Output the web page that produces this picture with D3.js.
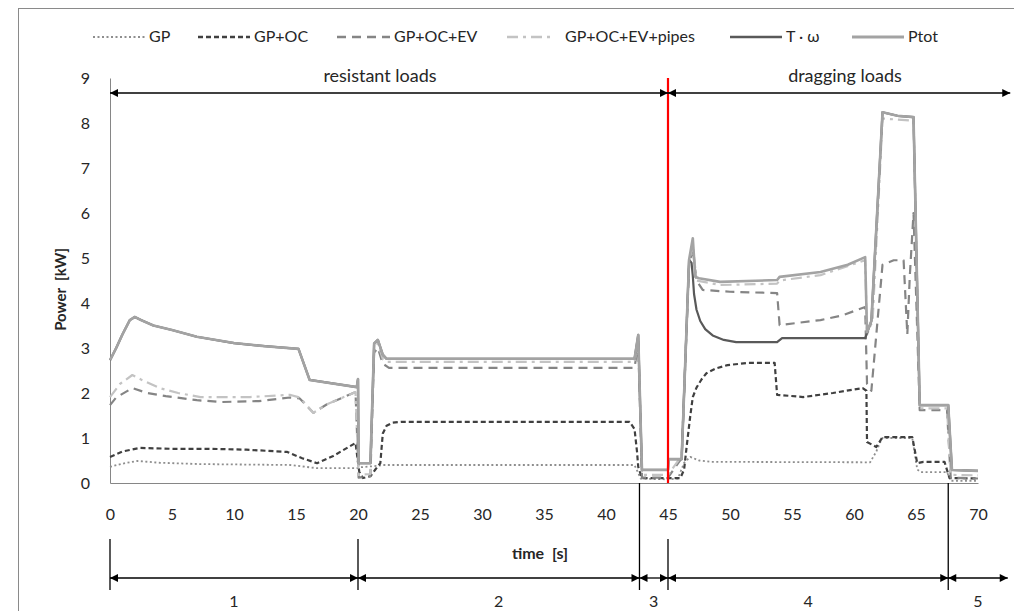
<!DOCTYPE html>
<html lang="en">
<head>
  <meta charset="UTF-8">
  <title>Power vs time</title>
  <style>
    body { margin: 0; background: #fff; }
    svg text { font-family: Lato, "Open Sans", sans-serif; fill: #262626; white-space: pre; }
  </style>
</head>
<body>
  <svg id="chart" width="1014" height="611"></svg>

  <script src="https://d3js.org/d3.v7.min.js"></script>
  <script>
    // series: [time s, power kW]
    const gp = [[0,0.36],[1,0.43],[2.2,0.49],[4,0.45],[7.3,0.42],[14.5,0.4],[16.7,0.33],[19.9,0.33],[20.2,0.35],[21.5,0.38],[22,0.4],
      [42.3,0.4],[42.8,0.1],[45,0.08],[45.8,0.1],[46.3,0.45],[46.8,0.58],[47.5,0.5],[48.5,0.47],[61.3,0.46],[61.8,0.7],[62.1,0.9],
      [62.3,1.0],[64.7,1.0],[65.1,0.3],[65.4,0.24],[67.5,0.24],[67.8,0.05],[70,0.05]];

    const gpOc = [[0,0.58],[1,0.7],[2.4,0.78],[5,0.76],[8,0.76],[11,0.74],[14.3,0.69],[15.5,0.55],[16.7,0.44],[18,0.6],[19.8,0.89],
      [20.1,0.25],[20.4,0.11],[21,0.15],[21.4,0.3],[21.8,0.44],[22,1.1],[22.3,1.27],[22.8,1.34],[23.5,1.36],[41.9,1.36],[42.3,1.2],
      [42.5,0.7],[42.6,0.36],[42.9,0.11],[46,0.11],[46.3,0.3],[46.5,0.8],[46.8,1.5],[47,1.91],[47.3,2.12],[47.7,2.3],[48.1,2.44],
      [48.9,2.55],[49.8,2.62],[51.5,2.67],[53.6,2.67],[53.8,1.96],[55.9,1.91],[58.3,2.0],[60.7,2.11],[61,2.05],[61.05,0.91],
      [61.8,0.8],[62.3,1.02],[64.7,1.02],[65.1,0.44],[65.6,0.47],[67.3,0.47],[67.7,0.11],[70,0.1]];

    const gpOcEv = [[0,1.73],[0.5,1.9],[1.8,2.11],[3,2.0],[4.5,1.93],[7,1.84],[9,1.8],[12,1.82],[14.5,1.9],[15.3,1.88],[16.4,1.56],
      [17.5,1.75],[19.8,2.02],[20.05,0.12],[21,0.15],[21.3,2.9],[21.6,3.0],[22,2.65],[22.5,2.56],[42.3,2.56],[42.6,3.1],[42.9,0.12],
      [45,0.12],[46.1,0.55],[46.7,4.85],[47,5.2],[47.3,4.5],[47.8,4.29],[50,4.25],[53.8,4.22],[54,3.51],[57.3,3.62],[59,3.72],
      [60.9,3.91],[61.05,2.2],[61.4,2.05],[61.8,3.3],[62.3,4.85],[63.2,4.95],[64,4.95],[64.3,3.3],[64.5,4.6],[64.8,6.0],
      [65.3,1.62],[67.5,1.62],[67.8,0.12],[70,0.1]];

    const gpOcEvPipes = [[0,1.91],[0.8,2.2],[1.8,2.4],[2.5,2.3],[4,2.11],[5.5,2.0],[7.3,1.91],[11.3,1.91],[14.5,1.96],[15.3,1.9],
      [16.4,1.56],[17.5,1.75],[19.8,2.02],[20.05,0.18],[21,0.2],[21.3,3.0],[21.6,3.1],[22,2.75],[22.3,2.69],[42.3,2.69],[42.6,3.2],
      [42.9,0.18],[45,0.18],[46.1,0.6],[46.7,4.9],[47,5.3],[47.3,4.5],[49.2,4.4],[53.8,4.43],[54,4.5],[57.3,4.62],[60.9,4.95],
      [61.05,3.3],[61.5,3.6],[62.3,8.1],[64.8,8.05],[65.3,1.66],[67.5,1.66],[67.8,0.18],[70,0.17]];

    const tOmega = [[0,2.73],[0.5,3.0],[1,3.3],[1.6,3.62],[2,3.69],[2.5,3.62],[3.5,3.5],[5,3.4],[7,3.25],[10,3.11],[12.5,3.04],
      [15.2,2.98],[16.1,2.29],[19.9,2.13],[20,2.31],[20.05,0.44],[21,0.44],[21.3,3.1],[21.6,3.18],[22,2.85],[22.3,2.76],[42.3,2.76],
      [42.6,3.29],[42.9,0.29],[45,0.29],[45.05,0.53],[46.1,0.53],[46.7,4.96],[46.9,4.89],[47.0,4.6],[47.1,4.2],[47.3,3.85],
      [47.6,3.6],[48,3.42],[48.6,3.28],[49.5,3.18],[50.5,3.13],[53.8,3.13],[54.2,3.22],[60.9,3.22],[61.05,3.33],[61.4,3.6],
      [62.3,8.24],[63.5,8.16],[64.8,8.13],[65.3,1.73],[67.6,1.73],[67.9,0.29],[70,0.27]];

    const pTot = [[0,2.73],[0.5,3.0],[1,3.3],[1.6,3.62],[2,3.69],[2.5,3.62],[3.5,3.5],[5,3.4],[7,3.25],[10,3.11],[12.5,3.04],
      [15.2,2.98],[16.1,2.29],[19.9,2.13],[20,2.31],[20.05,0.44],[21,0.44],[21.3,3.1],[21.6,3.18],[22,2.85],[22.3,2.76],[42.3,2.76],
      [42.6,3.29],[42.9,0.29],[45,0.29],[45.05,0.53],[46.1,0.53],[46.7,4.96],[47,5.44],[47.2,4.58],[47.5,4.55],[49.2,4.47],
      [53.8,4.51],[54,4.58],[57.3,4.69],[59.5,4.85],[60.9,5.02],[61.05,3.35],[61.4,3.6],[62.3,8.24],[63.5,8.16],[64.8,8.13],
      [65.3,1.73],[67.6,1.73],[67.9,0.29],[70,0.27]];

    const seriesNames = ["GP", "GP+OC", "GP+OC+EV", "GP+OC+EV+pipes", "T · ω", "Ptot"];
    const seriesData = [gp, gpOc, gpOcEv, gpOcEvPipes, tOmega, pTot];
    const seriesColors = ["#8e8e8e", "#404040", "#858585", "#c3c3c3", "#595959", "#a3a3a3"];
    const seriesDash = ["2,2.5", "5,3", "9,6", "11,5,3,5", null, null];
    const seriesWidth = [1.8, 2.2, 2.2, 2.2, 2.2, 2.6];

    const xTicks = d3.range(0, 71, 5);
    const yTicks = d3.range(0, 10, 1);
    const phaseBounds = [0, 20, 42.7, 45, 67.6, 72.4];
    const phaseLabels = ["1", "2", "3", "4", "5"];
    const loadSplit = 45;
    const loadLabels = ["resistant loads", "dragging loads"];

    const svg = d3.select("#chart");

    const x = d3.scaleLinear().domain([0, 70]).range([110, 978]);
    const y = d3.scaleLinear().domain([0, 9]).range([483, 78]);

    // chart border
    svg.append("rect")
      .attr("x", 18.5).attr("y", 8.5)
      .attr("width", 1100).attr("height", 700)
      .attr("fill", "none").attr("stroke", "#8a8a8a").attr("stroke-width", 1);

    const defs = svg.append("defs");
    defs.append("marker")
      .attr("id", "ah")
      .attr("viewBox", "0 0 10 10")
      .attr("refX", 10).attr("refY", 5)
      .attr("markerWidth", 10).attr("markerHeight", 8)
      .attr("markerUnits", "userSpaceOnUse")
      .attr("orient", "auto-start-reverse")
      .append("path")
      .attr("d", "M0,0 L10,5 L0,10 z")
      .attr("fill", "#000");

    // axes
    const yAxis = svg.append("g")
      .attr("transform", `translate(${x(0)},0)`)
      .call(d3.axisLeft(y).tickValues(yTicks).tickSize(0).tickPadding(20).tickFormat(d3.format("d")));
    yAxis.select(".domain").attr("stroke", "#868686");
    yAxis.selectAll("text").style("font-size", "16px").attr("fill", "#262626");

    const xAxis = svg.append("g")
      .attr("transform", `translate(0,${y(0)})`)
      .call(d3.axisBottom(x).tickValues(xTicks).tickSize(0).tickPadding(26).tickFormat(d3.format("d")));
    xAxis.select(".domain").attr("stroke", "#868686");
    xAxis.selectAll("text").style("font-size", "16px").attr("fill", "#262626");

    svg.append("text")
      .attr("transform", `translate(66,${y(4.3)}) rotate(-90)`)
      .attr("text-anchor", "middle")
      .style("font-size", "15px").style("font-weight", "bold")
      .text("Power  [kW]");

    svg.append("text")
      .attr("x", 540).attr("y", 559)
      .attr("text-anchor", "middle")
      .style("font-size", "16px").style("font-weight", "bold")
      .text("time  [s]");

    // lines
    const line = d3.line().x(d => x(d[0])).y(d => y(d[1]));
    seriesData.forEach((s, i) => {
      svg.append("path")
        .datum(s)
        .attr("d", line)
        .attr("fill", "none")
        .attr("stroke", seriesColors[i])
        .attr("stroke-width", seriesWidth[i])
        .attr("stroke-dasharray", seriesDash[i])
        .attr("stroke-linejoin", "round");
    });

    // red divider
    svg.append("line")
      .attr("x1", x(loadSplit)).attr("x2", x(loadSplit))
      .attr("y1", y(9)).attr("y2", y(0))
      .attr("stroke", "#ff0000").attr("stroke-width", 2.2);

    // load arrows on top
    const topY = 93;
    const loadRanges = [[0, loadSplit], [loadSplit, phaseBounds[phaseBounds.length - 1] + 0.2]];
    loadRanges.forEach((r, i) => {
      svg.append("line")
        .attr("x1", x(r[0])).attr("x2", x(r[1]))
        .attr("y1", topY).attr("y2", topY)
        .attr("stroke", "#000").attr("stroke-width", 1.6)
        .attr("marker-start", "url(#ah)").attr("marker-end", "url(#ah)");
      svg.append("text")
        .attr("x", i === 0 ? 380 : 845).attr("y", 82)
        .attr("text-anchor", "middle")
        .style("font-size", "18px")
        .text(loadLabels[i]);
    });

    // phase arrows at bottom
    const phaseY = 578;
    phaseBounds.slice(0, -1).forEach((b, i) => {
      const top = (b === 42.7 || b === 67.6) ? y(0) : 539;
      svg.append("line")
        .attr("x1", x(b)).attr("x2", x(b))
        .attr("y1", top).attr("y2", 590)
        .attr("stroke", "#000").attr("stroke-width", 1.3);
      svg.append("line")
        .attr("x1", x(b)).attr("x2", x(phaseBounds[i + 1]))
        .attr("y1", phaseY).attr("y2", phaseY)
        .attr("stroke", "#000").attr("stroke-width", 1.3)
        .attr("marker-start", "url(#ah)").attr("marker-end", "url(#ah)");
      svg.append("text")
        .attr("x", (x(b) + x(phaseBounds[i + 1])) / 2).attr("y", 607)
        .attr("text-anchor", "middle")
        .style("font-size", "16px")
        .text(phaseLabels[i]);
    });

    // legend
    const legendY = 37;
    const legendSample = [[93, 145], [198, 250], [337, 390], [507, 553], [730, 782], [852, 904]];
    seriesNames.forEach((name, i) => {
      const [a, b] = legendSample[i];
      svg.append("line")
        .attr("x1", a).attr("x2", b)
        .attr("y1", legendY).attr("y2", legendY)
        .attr("stroke", seriesColors[i])
        .attr("stroke-width", seriesWidth[i] + 0.4)
        .attr("stroke-dasharray", seriesDash[i]);
      svg.append("text")
        .attr("x", i === 3 ? 565 : b + 4).attr("y", legendY + 5)
        .style("font-size", "16px")
        .text(name);
    });
  </script>
</body>
</html>
